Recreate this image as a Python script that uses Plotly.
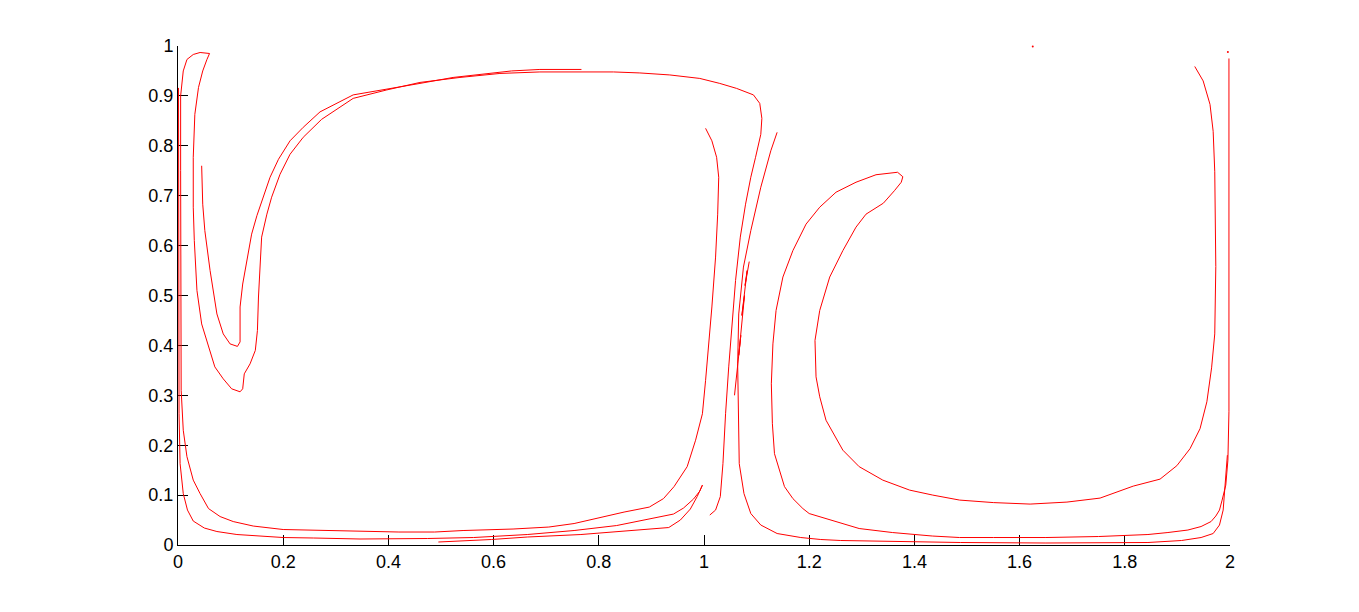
"""
Ligne matérielle advectée dans le double tourbillon (double gyre)
"""
import plotly.graph_objects as go


# Brin 1 : paroi gauche, fond, petite boucle près de x = 1
brin1_x = [0.001, 0.001, 0.001, 0.002, 0.004, 0.010, 0.018, 0.029, 0.050, 0.074,
           0.112, 0.150, 0.200, 0.258, 0.346, 0.474, 0.562, 0.664, 0.753, 0.834,
           0.909, 0.942, 0.961, 0.980, 0.992, 0.997, 0.987, 0.974, 0.955, 0.933,
           0.868, 0.766, 0.664, 0.596, 0.495]
brin1_y = [0.916, 0.600, 0.400, 0.263, 0.163, 0.103, 0.070, 0.048, 0.034, 0.027,
           0.021, 0.018, 0.015, 0.014, 0.012, 0.013, 0.015, 0.021, 0.029, 0.039,
           0.054, 0.062, 0.074, 0.092, 0.108, 0.120, 0.097, 0.072, 0.050, 0.035,
           0.030, 0.021, 0.016, 0.011, 0.006]

# Brin 2 : remontée en x ~ 1, fond, crochet gauche, haut, descente en x ~ 1.05
brin2_x = [1.003, 1.015, 1.024, 1.028, 1.026, 1.022, 1.015, 1.009, 1.003, 0.997,
           0.984, 0.968, 0.955, 0.943, 0.923, 0.896, 0.848, 0.800, 0.753, 0.705,
           0.637, 0.542, 0.488, 0.420, 0.338, 0.257, 0.200, 0.143, 0.105, 0.080,
           0.058, 0.042, 0.029, 0.017, 0.010, 0.006, 0.005, 0.005, 0.005, 0.010,
           0.017, 0.029, 0.042, 0.060, 0.055, 0.047, 0.039, 0.032, 0.029, 0.029,
           0.031, 0.036, 0.045, 0.055, 0.070, 0.086, 0.102, 0.118, 0.123, 0.126,
           0.137, 0.147, 0.151, 0.153, 0.155, 0.159, 0.169, 0.178, 0.194, 0.213,
           0.238, 0.273, 0.333, 0.397, 0.460, 0.536, 0.612, 0.688, 0.828, 0.878,
           0.935, 0.992, 1.030, 1.062, 1.094, 1.106, 1.110, 1.108, 1.098, 1.089,
           1.079, 1.069, 1.060, 1.052, 1.047, 1.041, 1.036, 1.031, 1.022, 1.011]
brin2_y = [0.835, 0.810, 0.777, 0.737, 0.663, 0.577, 0.477, 0.397, 0.330, 0.263,
           0.210, 0.157, 0.135, 0.117, 0.093, 0.076, 0.066, 0.054, 0.043, 0.036,
           0.032, 0.029, 0.026, 0.026, 0.028, 0.030, 0.031, 0.038, 0.047, 0.057,
           0.073, 0.103, 0.130, 0.177, 0.230, 0.310, 0.500, 0.750, 0.900, 0.950,
           0.973, 0.983, 0.987, 0.985, 0.973, 0.950, 0.917, 0.863, 0.777, 0.677,
           0.610, 0.510, 0.443, 0.410, 0.357, 0.333, 0.313, 0.307, 0.313, 0.343,
           0.363, 0.390, 0.430, 0.497, 0.543, 0.617, 0.663, 0.697, 0.743, 0.783,
           0.817, 0.853, 0.895, 0.912, 0.927, 0.937, 0.945, 0.948, 0.948, 0.946,
           0.942, 0.935, 0.925, 0.915, 0.902, 0.885, 0.855, 0.823, 0.777, 0.737,
           0.683, 0.617, 0.530, 0.430, 0.357, 0.263, 0.163, 0.097, 0.070, 0.060]

# Brin 3 : crochet intérieur gauche jusqu'au sommet
brin3_x = [0.045, 0.047, 0.051, 0.061, 0.074, 0.086, 0.099, 0.113, 0.118, 0.118,
           0.123, 0.132, 0.140, 0.150, 0.162, 0.175, 0.191, 0.213, 0.238, 0.270,
           0.333, 0.397, 0.460, 0.523, 0.587, 0.634, 0.688, 0.767]
brin3_y = [0.760, 0.683, 0.630, 0.550, 0.463, 0.423, 0.403, 0.398, 0.407, 0.477,
           0.523, 0.577, 0.623, 0.660, 0.697, 0.737, 0.773, 0.810, 0.837, 0.868,
           0.902, 0.913, 0.925, 0.937, 0.944, 0.950, 0.953, 0.953]

# Brin 4 : filament central puis fond droit
brin4_x = [1.139, 1.127, 1.108, 1.089, 1.075, 1.066, 1.064, 1.065, 1.067, 1.076,
           1.089, 1.108, 1.139, 1.184, 1.222, 1.260, 1.355, 1.488, 1.650, 1.844,
           1.908, 1.945, 1.968, 1.980, 1.987, 1.990, 1.993, 1.995]
brin4_y = [0.827, 0.790, 0.717, 0.630, 0.557, 0.463, 0.363, 0.263, 0.163, 0.103,
           0.063, 0.040, 0.023, 0.015, 0.011, 0.009, 0.007, 0.005, 0.004, 0.005,
           0.009, 0.015, 0.023, 0.040, 0.070, 0.110, 0.150, 0.180]

# Brin 5 : paroi droite, fond, croissant et boucle droite
brin5_x = [1.998, 1.998, 1.998, 1.996, 1.992, 1.985, 1.980, 1.973, 1.964, 1.945,
           1.920, 1.882, 1.844, 1.750, 1.650, 1.550, 1.486, 1.434, 1.358, 1.295,
           1.231, 1.200, 1.188, 1.169, 1.153, 1.143, 1.134, 1.130, 1.128, 1.131,
           1.137, 1.150, 1.169, 1.194, 1.220, 1.251, 1.289, 1.327, 1.368, 1.378,
           1.375, 1.362, 1.341, 1.308, 1.289, 1.264, 1.239, 1.220, 1.211, 1.213,
           1.220, 1.232, 1.264, 1.295, 1.340, 1.391, 1.435, 1.486, 1.550, 1.620,
           1.690, 1.753, 1.816, 1.867, 1.899, 1.924, 1.943, 1.956, 1.965, 1.971,
           1.973, 1.971, 1.968, 1.962, 1.949, 1.933]
brin5_y = [0.975, 0.600, 0.267, 0.170, 0.120, 0.090, 0.070, 0.058, 0.047, 0.037,
           0.030, 0.025, 0.021, 0.017, 0.015, 0.015, 0.015, 0.018, 0.025, 0.033,
           0.053, 0.063, 0.073, 0.093, 0.117, 0.150, 0.183, 0.243, 0.323, 0.403,
           0.470, 0.537, 0.590, 0.643, 0.677, 0.707, 0.727, 0.742, 0.747, 0.738,
           0.727, 0.710, 0.685, 0.663, 0.637, 0.590, 0.537, 0.470, 0.410, 0.337,
           0.297, 0.250, 0.190, 0.157, 0.130, 0.110, 0.100, 0.090, 0.085, 0.082,
           0.086, 0.094, 0.118, 0.132, 0.159, 0.193, 0.233, 0.287, 0.355, 0.423,
           0.558, 0.748, 0.829, 0.883, 0.930, 0.959]

# Brin 6 : filament replié (zigzag) au centre
brin6_x = [1.086, 1.078, 1.082, 1.072, 1.077, 1.066, 1.070, 1.058]
brin6_y = [0.568, 0.520, 0.550, 0.460, 0.500, 0.380, 0.420, 0.300]

# Points isolés
points_x = [1.625, 1.996]
points_y = [0.999, 0.988]

x_ticks = [0, 0.2, 0.4, 0.6, 0.8, 1, 1.2, 1.4, 1.6, 1.8, 2]
y_ticks = [0, 0.1, 0.2, 0.3, 0.4, 0.5, 0.6, 0.7, 0.8, 0.9, 1]


def create_figure() -> go.Figure:
    """Trace tous les brins de la ligne matérielle"""
    fig = go.Figure()

    brins = [
        (brin1_x, brin1_y), (brin2_x, brin2_y), (brin3_x, brin3_y),
        (brin4_x, brin4_y), (brin5_x, brin5_y), (brin6_x, brin6_y),
    ]
    for bx, by in brins:
        fig.add_trace(go.Scatter(
            x=bx, y=by,
            mode='lines',
            line=dict(color='#ff0000', width=1),
            hoverinfo='skip'
        ))

    fig.add_trace(go.Scatter(
        x=points_x, y=points_y,
        mode='markers',
        marker=dict(color='#ff0000', size=2),
        cliponaxis=False,
        hoverinfo='skip'
    ))

    axis_style = dict(
        showline=True,
        linecolor='black',
        linewidth=1,
        ticks='inside',
        ticklen=10,
        tickwidth=1,
        tickcolor='black',
        showgrid=False,
        zeroline=False,
        mirror=False,
        automargin=False,
        layer='below traces',
        tickfont=dict(family='Liberation Sans, Arial, sans-serif', size=18, color='black'),
    )

    # la page ajoute une marge de 8 px autour du graphique
    fig.update_layout(
        width=1351,
        height=604,
        showlegend=False,
        plot_bgcolor='white',
        paper_bgcolor='white',
        margin=dict(l=170, r=129, t=38, b=67),
        xaxis=dict(range=[0, 2], tickvals=x_ticks, ticktext=[f"{v:g}" for v in x_ticks],
                   **axis_style),
        yaxis=dict(range=[0, 1], tickvals=y_ticks, ticktext=[f"{v:g}" for v in y_ticks],
                   **axis_style),
    )
    return fig


fig = create_figure()
fig.write_html("out.html")
